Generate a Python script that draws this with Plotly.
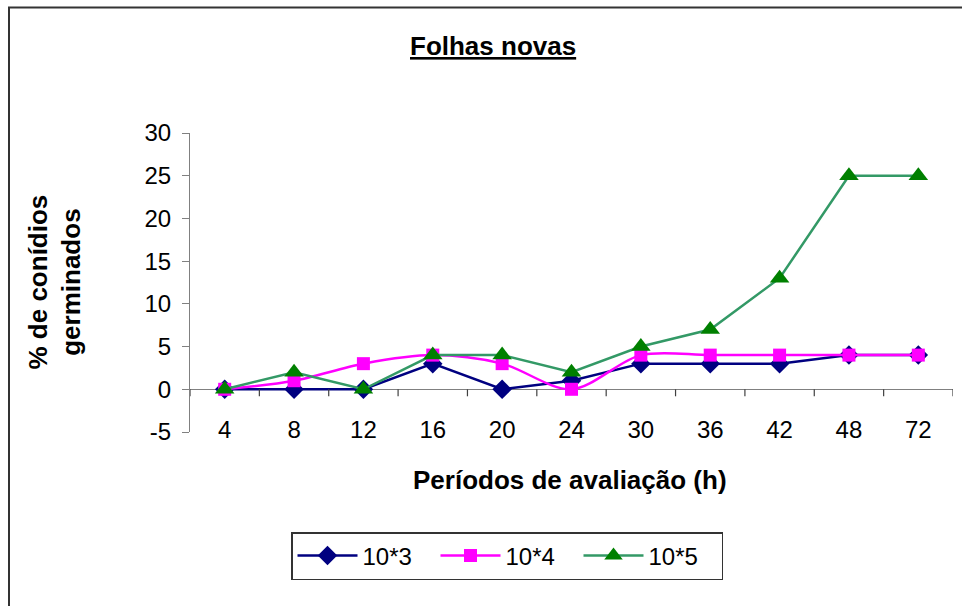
import plotly.graph_objects as go

# Germination percentages per evaluation period (h), one list per spore concentration
periodos = ["4", "8", "12", "16", "20", "24", "30", "36", "42", "48", "72"]
conc_10e3 = [0, 0, 0, 3, 0, 1, 3, 3, 3, 4, 4]
conc_10e4 = [0, 1, 3, 4, 3, 0, 4, 4, 4, 4, 4]
conc_10e5 = [0, 2, 0, 4, 4, 2, 5, 7, 13, 25, 25]
nomes = ["10*3", "10*4", "10*5"]
y_ticks = [-5, 0, 5, 10, 15, 20, 25, 30]
y_tick_text = ["-5", "0", "5", "10", "15", "20", "25", "30"]

FONT = "Liberation Sans, Arial, sans-serif"
W, H = 962, 606
ML, MR, MT, MB = 190, 9, 133, 174
PW, PH = W - ML - MR, H - MT - MB


def px_x(p):
    return (p - ML) / PW


def px_y(p):
    return (H - MB - p) / PH


xpos = list(range(len(periodos)))

fig = go.Figure()
fig.add_trace(go.Scatter(
    x=xpos, y=conc_10e3, name=nomes[0], mode="lines+markers",
    line=dict(color="#000080", width=2.5),
    marker=dict(symbol="diamond", size=15, color="#000080"),
))
fig.add_trace(go.Scatter(
    x=xpos, y=conc_10e4, name=nomes[1], mode="lines+markers",
    line=dict(color="#FF00FF", width=2.5, shape="spline", smoothing=0.9),
    marker=dict(symbol="square", size=13, color="#FF00FF"),
))
fig.add_trace(go.Scatter(
    x=xpos, y=conc_10e5, name=nomes[2], mode="lines+markers",
    line=dict(color="#339966", width=2.5),
    marker=dict(symbol="triangle-up", size=17, color="#008000"),
))

shapes = []
# category boundary ticks hanging below the zero line
for i in range(len(periodos) + 1):
    shapes.append(dict(
        type="line", xref="x", yref="y", ysizemode="pixel", yanchor=0,
        x0=i - 0.5, x1=i - 0.5, y0=0, y1=-7,
        line=dict(color="#404040", width=1.2),
    ))
# outer chart frame
shapes.append(dict(
    type="rect", xref="paper", yref="paper",
    x0=px_x(9), x1=px_x(1100), y0=px_y(700), y1=px_y(7.5),
    line=dict(color="#333333", width=2), fillcolor="rgba(0,0,0,0)",
))

annotations = [
    dict(text="<b><u>Folhas novas</u></b>", xref="paper", yref="paper",
         x=px_x(493), y=px_y(46), xanchor="center", yanchor="middle",
         showarrow=False, font=dict(family=FONT, size=26, color="black")),
    dict(text="<b>Períodos de avaliação (h)</b>", xref="paper", yref="paper",
         x=px_x(570), y=px_y(480), xanchor="center", yanchor="middle",
         showarrow=False, font=dict(family=FONT, size=26, color="black")),
    dict(text="<b>% de conídios<br>germinados</b>", xref="paper", yref="paper",
         x=px_x(54), y=0.5, xanchor="center", yanchor="middle", textangle=-90,
         showarrow=False, font=dict(family=FONT, size=26, color="black")),
]

fig.update_layout(
    width=W, height=H,
    margin=dict(l=ML, r=MR, t=MT, b=MB, pad=0),
    paper_bgcolor="white", plot_bgcolor="white",
    font=dict(family=FONT, size=24, color="black"),
    showlegend=True,
    legend=dict(
        orientation="h", x=px_x(507), y=px_y(556),
        xanchor="center", yanchor="middle",
        bordercolor="#333333", borderwidth=1.5, bgcolor="white",
        font=dict(family=FONT, size=24, color="black"),
        itemwidth=60, entrywidth=68,
    ),
    xaxis=dict(
        range=[-0.5, len(periodos) - 0.5],
        tickmode="array", tickvals=xpos, ticktext=periodos,
        showgrid=False, zeroline=False, showline=False, ticks="",
        anchor="free", position=px_y(413),
        tickfont=dict(family=FONT, size=24, color="black"),
    ),
    yaxis=dict(
        range=[-5, 30], tickmode="array", tickvals=y_ticks, ticktext=y_tick_text,
        showgrid=False, zeroline=True, zerolinecolor="#808080", zerolinewidth=1.2,
        showline=True, linecolor="#808080", linewidth=1.2,
        ticks="outside", ticklen=7, tickcolor="#808080", tickwidth=1.2,
        ticklabelstandoff=6,
        tickfont=dict(family=FONT, size=24, color="black"),
    ),
    shapes=shapes,
    annotations=annotations,
)

fig.write_html("out.html")
